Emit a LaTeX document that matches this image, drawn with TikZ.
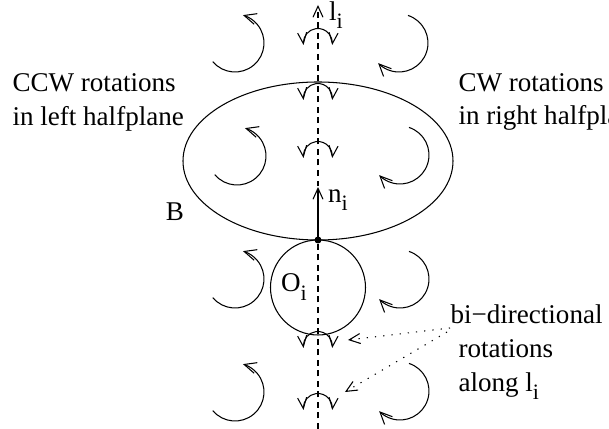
\documentclass[tikz,border=0pt]{standalone}
\usepackage{fontspec}
\setmainfont{Liberation Serif}
\usepackage{tikz}
\usetikzlibrary{calc, arrows.meta, bending}
\usepackage{tkz-euclide}
\newcommand{\subidx}[1]{\raisebox{-0.3em}{\fontsize{12.5}{13}\selectfont #1}}

\begin{document}
\begin{tikzpicture}[line width=0.6pt,
    every node/.style={font=\fontsize{15.4}{19.3}\selectfont, inner sep=0pt},
    ptrarrow/.style={-{Straight Barb[length=2.2mm,width=2mm]}},
    biarrow/.style={{Straight Barb[length=2.2mm,width=1.8mm,flex]}-{Straight Barb[length=2.2mm,width=1.8mm,flex]}},
    rotarrow/.style={-{Straight Barb[length=2.4mm,width=2.2mm,flex]}},
    dotline/.style={dash pattern=on 0.7pt off 4pt}]
            \useasboundingbox (-6.36,-3.78) rectangle (5.82,4.8);
            \tkzDefPoints{0/0/T, 0/1.58/E, 0/-0.95/O, 0/-3.78/Lb, 0/4.7/Lt, 0/1.06/N}
            % rotation centres, left and right halfplane
            \tkzDefPoints{-1.66/3.94/L1, -1.62/1.68/L2, -1.66/-0.78/L3, -1.66/-3.04/L4}
            \tkzDefPoints{1.62/3.94/R1, 1.64/1.7/R2, 1.64/-0.78/R3, 1.64/-3.02/R4}
            % rotations along the line
            \tkzDefPoints{0/3.94/C1, 0/2.84/C2, 0/1.68/C3, 0/-2.12/C4, 0/-3.36/C5}
            \coordinate (S1) at (2.64,-1.76);
            \coordinate (A1) at (0.6,-2.0);
            \coordinate (S2) at (2.58,-1.84);
            \coordinate (A2) at (0.54,-3.04);
            \draw[dashed, dash pattern=on 3.4pt off 2.6pt, ptrarrow] (Lb) -- (Lt);
            \draw (E) ellipse (2.7 and 1.58);
            \tkzDrawCircle[black, line width=0.6pt](O,T)
            \draw[ptrarrow] (T) -- (N);
            \fill (T) circle (0.07);
            \foreach \c in {L1, L2, L3, L4}
              \draw[rotarrow] ($(\c)+(-140:0.58)$) arc (-140:74:0.58);
            \foreach \c in {R1, R2, R3, R4}
              \draw[rotarrow] ($(\c)+(72:0.58)$) arc (72:-136:0.58);
            \foreach \c in {C1, C2, C3, C4, C5}
              \draw[biarrow] ($(\c)+(-0.29,-0.04)$) arc (188:-8:0.29);
            \draw[dotline, ptrarrow] (S1) -- (A1);
            \draw[dotline, ptrarrow] (S2) -- (A2);
            \node (li) at (0.36,4.5) {l\subidx{i}};
            \node (ni) at (0.4,0.8) {n\subidx{i}};
            \node (B) at (-2.86,0.56) {B};
            \node (Oi) at (-0.48,-0.94) {O\subidx{i}};
            \node[anchor=west, align=left] (ccw) at (-6.12,2.76) {CCW rotations\\in left halfplane};
            \node[anchor=west, align=left] (cw) at (2.8,2.76) {CW rotations\\in right halfplane};
            \node[anchor=west, align=left] (bidir) at (2.64,-2.24) {bi−directional\\\hspace*{0.16cm}rotations\\\hspace*{0.16cm}along l\subidx{i}};
        \end{tikzpicture}
\end{document}
